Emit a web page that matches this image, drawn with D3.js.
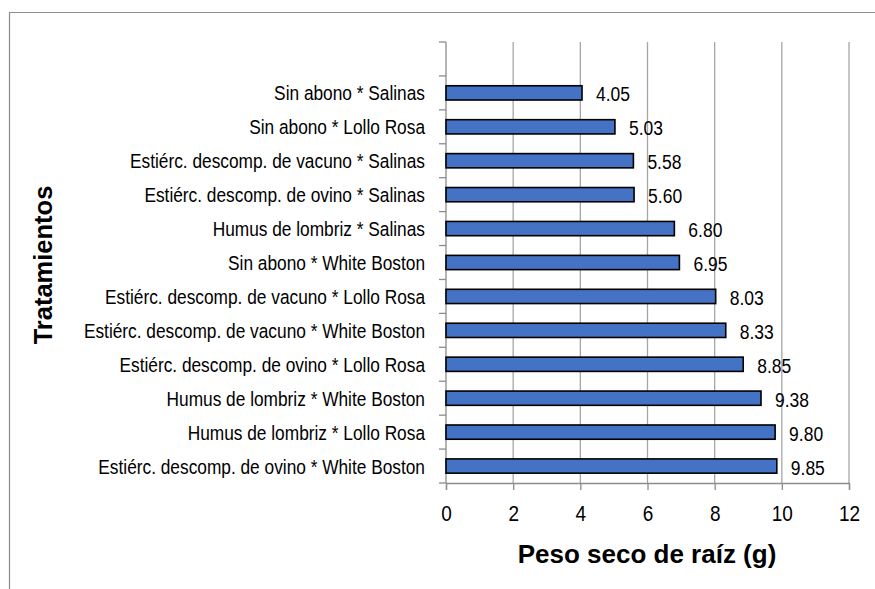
<!DOCTYPE html>
<html>
<head>
<meta charset="utf-8">
<script src="https://cdn.jsdelivr.net/npm/d3@7"></script>
<style>
  html, body { margin: 0; padding: 0; background: #fff; }
  text { font-family: "Liberation Sans", Arial, sans-serif; }
</style>
</head>
<body>
<svg id="chart" width="875" height="589"></svg>
<script>
const categories = [
  "Sin abono * Salinas",
  "Sin abono * Lollo Rosa",
  "Estiérc. descomp. de vacuno * Salinas",
  "Estiérc. descomp. de ovino * Salinas",
  "Humus de lombriz * Salinas",
  "Sin abono * White Boston",
  "Estiérc. descomp. de vacuno * Lollo Rosa",
  "Estiérc. descomp. de vacuno * White Boston",
  "Estiérc. descomp. de ovino * Lollo Rosa",
  "Humus de lombriz * White Boston",
  "Humus de lombriz * Lollo Rosa",
  "Estiérc. descomp. de ovino * White Boston"
];
const values = [4.05, 5.03, 5.58, 5.60, 6.80, 6.95, 8.03, 8.33, 8.85, 9.38, 9.80, 9.85];
const xTicks = [0, 2, 4, 6, 8, 10, 12];
const xTitle = "Peso seco de raíz (g)";
const yTitle = "Tratamientos";

const svg = d3.select("#chart");
const plotLeft = 446, plotRight = 849, plotTop = 42, plotBottom = 483;
const nBands = categories.length + 1; // one empty band at top
const bandStep = (plotBottom - plotTop) / nBands;

const x = d3.scaleLinear().domain([0, 12]).range([plotLeft, plotRight]);
const y = d3.scaleBand().domain(categories)
  .range([plotTop + bandStep, plotBottom]).paddingInner(0.58).paddingOuter(0.29);

// outer frame (cut off at right/bottom)
svg.append("path").attr("d", `M9.5,589 L9.5,12.5 L875,12.5`)
  .attr("fill", "none").attr("stroke", "#8c8c8c").attr("stroke-width", 1.2);

// gridlines
svg.append("g").selectAll("line").data(xTicks.filter(d => d > 0)).join("line")
  .attr("x1", d => x(d)).attr("x2", d => x(d))
  .attr("y1", plotTop).attr("y2", plotBottom)
  .attr("stroke", "#a6a6a6").attr("stroke-width", 1.3);

// y axis line and ticks at band boundaries
const boundaries = d3.range(nBands + 1).map(i => plotTop + i * bandStep);
svg.append("line").attr("x1", plotLeft).attr("x2", plotLeft)
  .attr("y1", plotTop).attr("y2", plotBottom)
  .attr("stroke", "#8c8c8c").attr("stroke-width", 1.3);
svg.append("g").selectAll("line").data(boundaries).join("line")
  .attr("x1", plotLeft - 7).attr("x2", plotLeft)
  .attr("y1", d => d).attr("y2", d => d)
  .attr("stroke", "#8c8c8c").attr("stroke-width", 1.3);

// x axis
const xAxis = d3.axisBottom(x).tickValues(xTicks).tickSize(7).tickPadding(12)
  .tickFormat(d3.format("d"));
const gx = svg.append("g").attr("transform", `translate(0,${plotBottom})`).call(xAxis);
gx.select(".domain").attr("stroke", "#8c8c8c").attr("stroke-width", 1.3);
gx.selectAll(".tick line").attr("stroke", "#8c8c8c").attr("stroke-width", 1.3);
gx.selectAll(".tick text").attr("fill", "#000")
  .attr("y", 0).attr("dy", null)
  .attr("transform", "translate(0,38) scale(1,1.2)")
  .style("font-family", '"Liberation Sans", Arial, sans-serif').style("font-size", "19px");

// bars
svg.append("g").selectAll("rect").data(categories).join("rect")
  .attr("x", x(0))
  .attr("y", d => y(d))
  .attr("width", (d, i) => x(values[i]) - x(0))
  .attr("height", y.bandwidth())
  .attr("fill", "#4472C4").attr("stroke", "#000").attr("stroke-width", 1.6);

// value labels
svg.append("g").selectAll("text").data(categories).join("text")
  .attr("transform", (d, i) => `translate(${x(values[i]) + 14},${y(d) + y.bandwidth() / 2 + 8.5}) scale(1,1.15)`)
  .attr("font-size", "17.5px").attr("fill", "#000")
  .text((d, i) => values[i].toFixed(2));

// category labels
svg.append("g").selectAll("text").data(categories).join("text")
  .attr("transform", d => `translate(425,${y(d) + y.bandwidth() / 2 + 7.5}) scale(1,1.17)`)
  .attr("text-anchor", "end")
  .attr("font-size", "17.3px").attr("fill", "#000")
  .text(d => d);

// titles
svg.append("text").attr("x", 647).attr("y", 563)
  .attr("text-anchor", "middle").attr("font-weight", "bold")
  .attr("font-size", "26px").attr("fill", "#000").text(xTitle);
svg.append("text").attr("transform", "translate(52,265) rotate(-90)")
  .attr("text-anchor", "middle").attr("font-weight", "bold")
  .attr("font-size", "25.5px").attr("fill", "#000").text(yTitle);
</script>
</body>
</html>
